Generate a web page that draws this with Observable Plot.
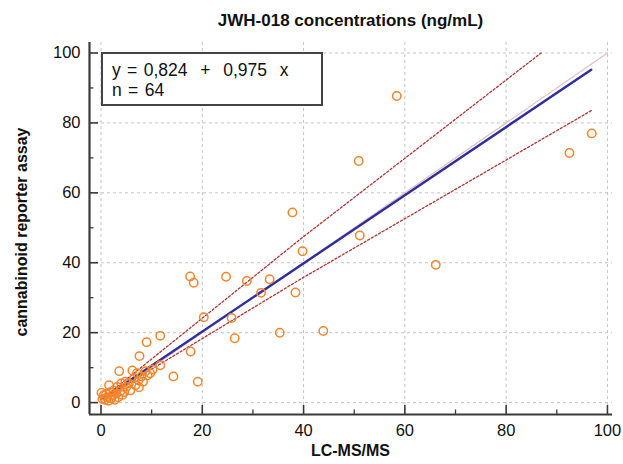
<!DOCTYPE html>
<html><head><meta charset="utf-8">
<script src="https://cdn.jsdelivr.net/npm/d3@7"></script>
<script src="https://cdn.jsdelivr.net/npm/@observablehq/plot@0.6"></script>
<style>
body{margin:0;background:#fff;font-family:"Liberation Sans",Arial,sans-serif;color:#111;}
#wrap{position:relative;width:623px;height:464px;overflow:hidden;}
#chart{position:absolute;left:0;top:0;}
.title{position:absolute;left:89px;width:523px;top:11px;text-align:center;font-weight:bold;font-size:17px;}
.xlabel{position:absolute;left:89px;width:523px;top:442px;text-align:center;font-weight:bold;font-size:16px;}
.ylabel{position:absolute;left:22px;top:232px;transform:translate(-50%,-50%) rotate(-90deg);white-space:nowrap;font-weight:bold;font-size:16px;}
.legend{position:absolute;left:101px;top:52px;width:222px;height:54px;border:2px solid #444;background:#fff;font-size:17.5px;word-spacing:1.5px;line-height:20px;padding:6px 0 0 9px;box-sizing:border-box;white-space:pre;}
</style></head>
<body><div id="wrap">
<div id="chart"></div>
<div class="title">JWH-018 concentrations (ng/mL)</div>
<div class="xlabel">LC-MS/MS</div>
<div class="ylabel">cannabinoid reporter assay</div>
<div class="legend" id="legend"></div>
</div>
<script>
const titleText = "JWH-018 concentrations (ng/mL)";
const intercept = 0.824, slope = 0.975, nObs = 64;
const xTicksMajor = [0,20,40,60,80,100];
const xTicksMinor = [10,30,50,70,90];
const yTicksMajor = [0,20,40,60,80,100];
const yTicksMinor = [10,30,50,70,90];
// LC-MS/MS values
const lcms = [58.4,50.9,51.1,66.1,92.5,96.9,39.8,37.8,17.6,18.3,24.7,28.8,33.3,31.6,38.4,20.3,25.8,26.4,35.3,43.9,11.7,17.7,11.7,14.3,19.1,9.0,7.6,
 0.3,0.5,0.8,1.0,1.2,1.5,1.6,1.8,2.0,2.2,2.5,2.7,3.0,3.2,3.4,3.6,3.8,4.0,4.2,4.6,4.8,5.0,5.5,5.8,6.2,6.5,6.8,7.1,7.4,7.5,8.0,8.3,8.8,9.2,9.7,10.2,0.1];
// cannabinoid reporter assay values
const assay = [87.7,69.1,47.8,39.4,71.4,77.0,43.3,54.4,36.1,34.3,36.0,34.8,35.3,31.4,31.5,24.4,24.2,18.4,20.0,20.5,19.1,14.6,10.7,7.5,6.0,17.3,13.3,
 1.0,2.0,0.8,2.5,1.5,0.5,5.0,3.0,1.2,2.0,3.5,0.8,2.5,4.5,1.5,9.0,3.2,5.5,2.2,3.0,6.0,4.5,5.5,3.5,9.2,7.0,5.0,8.4,6.3,4.4,7.5,6.0,9.0,7.8,8.4,9.5,2.8];
const fitX = [0.3, 96.8];
const lowerX = [0, 39.5, 96.8];
const lowerY = [0.8, 35.4, 83.5];
const upperX = [0, 39.4, 86.9];
const upperY = [0.8, 46.8, 100];
const identityX = [0, 100];

const points = lcms.map((x,i)=>({x, y: assay[i]}));
const fit = fitX.map(x=>({x, y: intercept + slope*x}));
const upper = upperX.map((x,i)=>({x, y: upperY[i]}));
const lower = lowerX.map((x,i)=>({x, y: lowerY[i]}));
const ident = identityX.map(x=>({x, y: x}));

const W = 623, H = 464, mL = 89, mR = 11, mT = 42, mB = 50;
const xDom = [-2.27, 101.0], yDom = [-3.4, 103.0];
const fw = W - mL - mR, fh = H - mT - mB;
const axisColor = "#3a3a3a";

const chart = Plot.plot({
  width: W, height: H, marginLeft: mL, marginRight: mR, marginTop: mT, marginBottom: mB,
  style: {fontFamily: "Liberation Sans, Arial, sans-serif", fontSize: "16.5px", color: "#111", background: "transparent", overflow: "visible"},
  x: {domain: xDom, label: null},
  y: {domain: yDom, label: null},
  marks: [
    Plot.gridX(xTicksMajor, {stroke: "#c4c4c4", strokeOpacity: 1, strokeDasharray: "3,3"}),
    Plot.gridY(yTicksMajor, {stroke: "#c4c4c4", strokeOpacity: 1, strokeDasharray: "3,3"}),
    Plot.line(ident, {x: "x", y: "y", stroke: "#e8bcbc", strokeWidth: 1.2}),
    Plot.line(upper, {x: "x", y: "y", stroke: "#b03535", strokeWidth: 1.3, strokeDasharray: "2.2,2"}),
    Plot.line(lower, {x: "x", y: "y", stroke: "#b03535", strokeWidth: 1.3, strokeDasharray: "2.2,2"}),
    Plot.line(fit, {x: "x", y: "y", stroke: "#2e2ea0", strokeWidth: 2.4}),
    Plot.dot(points, {x: "x", y: "y", r: 4.2, stroke: "#f5842a", strokeWidth: 1.5, fill: "none"}),
    Plot.tickX(xTicksMajor, {x: d=>d, stroke: axisColor, strokeWidth: 1.6, insetTop: fh - 9}),
    Plot.tickX(xTicksMinor, {x: d=>d, stroke: axisColor, strokeWidth: 1.3, insetTop: fh - 4.5}),
    Plot.tickY(yTicksMajor, {y: d=>d, stroke: axisColor, strokeWidth: 1.6, insetRight: fw - 9}),
    Plot.tickY(yTicksMinor, {y: d=>d, stroke: axisColor, strokeWidth: 1.3, insetRight: fw - 4.5}),
    Plot.ruleX([xDom[0]], {stroke: axisColor, strokeWidth: 2.2}),
    Plot.ruleY([yDom[0]], {stroke: axisColor, strokeWidth: 2.2}),
    Plot.axisX(xTicksMajor, {tickSize: 0, tickPadding: 10, label: null}),
    Plot.axisY(yTicksMajor, {tickSize: 0, tickPadding: 9, label: null})
  ]
});
document.getElementById("chart").appendChild(chart);
document.getElementById("legend").textContent =
  "y = " + intercept.toFixed(3).replace(".", ",") + "  +  " + slope.toFixed(3).replace(".", ",") + "  x\nn = " + nObs;
</script>
</body></html>
